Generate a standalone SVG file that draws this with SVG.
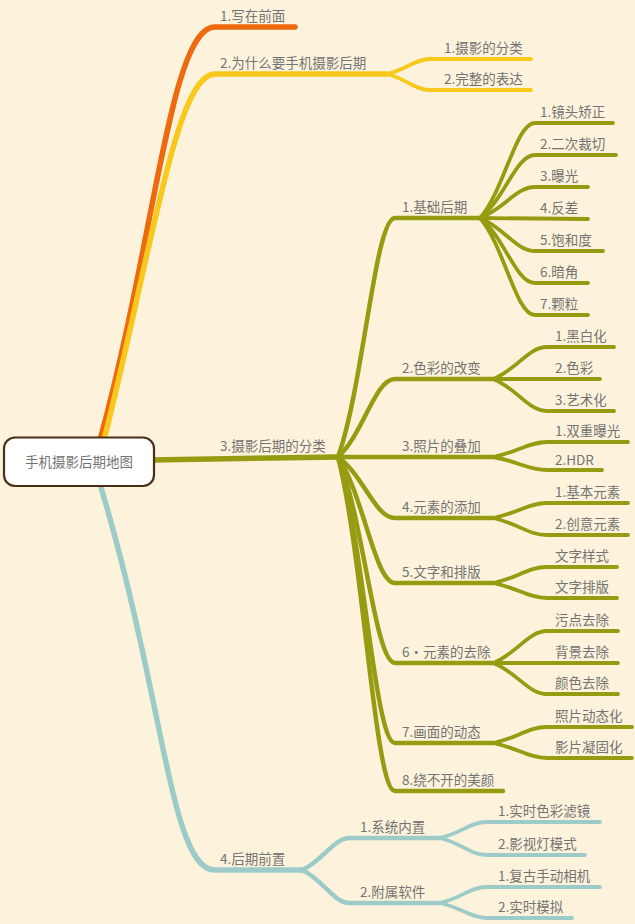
<svg xmlns="http://www.w3.org/2000/svg" width="635" height="924" viewBox="0 0 635 924">
<style>
  text { font-family: "Noto Sans CJK SC", "Noto Sans", sans-serif; font-size: 13.5px; fill: #737373; }
  .c { fill: none; stroke-linecap: round; stroke-linejoin: round; }
  .o { stroke: #ee6a0e; }
  .y { stroke: #f8c81c; }
  .g { stroke: #959c12; }
  .t { stroke: #9dcbca; }
  .w1 { stroke-width: 5.5; }
  .w2 { stroke-width: 4.5; }
  .w3 { stroke-width: 3.8; }
  .root { fill: #ffffff; stroke: #4b2e18; stroke-width: 2.2; }
</style>
<rect x="0" y="0" width="635" height="924" fill="#fdf3dc"/>
<g id="connectors">
  <path class="c o w1" d="M100,440 C155,240 170,27 215,27 L295,27"/>
  <path class="c y w1" d="M104,440 C152,250 176,74 215,74 L387,74"/>
  <path class="c g w1" d="M150,460 L338,457"/>
  <path class="c t w1" d="M100,484 C165,700 170,870 215,870 L302,870"/>
  <path class="c y w3" d="M387,74 C406.4,69.5 415,59 430,59 L531,59"/>
  <path class="c y w3" d="M387,74 C406.4,78.8 415,90 430,90 L531,90"/>
  <path class="c g w2" d="M338,457 C363.6,385.3 375,218 395,218 L480,218"/>
  <path class="c g w2" d="M338,457 C363.6,433.6 375,379 395,379 L493,379"/>
  <path class="c g w2" d="M338,457 L493,457"/>
  <path class="c g w2" d="M338,457 C363.6,475.3 375,518 395,518 L493,518"/>
  <path class="c g w2" d="M338,457 C363.6,494.8 375,583 395,583 L493,583"/>
  <path class="c g w2" d="M338,457 C363.6,518.8 375,663 395,663 L493,663"/>
  <path class="c g w2" d="M338,457 C363.6,542.8 375,743 395,743 L493,743"/>
  <path class="c g w2" d="M338,457 C363.6,557.2 375,791 395,791 L503,791"/>
  <path class="c g w3" d="M480,218 C504.75,189.5 515.75,123 535,123 L613,123"/>
  <path class="c g w3" d="M480,218 C504.75,199.1 515.75,155 535,155 L616,155"/>
  <path class="c g w3" d="M480,218 C504.75,208.7 515.75,187 535,187 L588,187"/>
  <path class="c g w3" d="M480,218 L588,219"/>
  <path class="c g w3" d="M480,218 C504.75,227.9 515.75,251 535,251 L603,251"/>
  <path class="c g w3" d="M480,218 C504.75,237.5 515.75,283 535,283 L588,283"/>
  <path class="c g w3" d="M480,218 C504.75,247.1 515.75,315 535,315 L588,315"/>
  <path class="c g w3" d="M493,379 C517.3,369.4 528.1,347 547,347 L614,347"/>
  <path class="c g w3" d="M493,379 L600,379"/>
  <path class="c g w3" d="M493,379 C517.3,388.6 528.1,411 547,411 L614,411"/>
  <path class="c g w3" d="M493,457 C517.3,452.5 528.1,442 547,442 L628,442"/>
  <path class="c g w3" d="M493,457 C517.3,460.9 528.1,470 547,470 L602,470"/>
  <path class="c g w3" d="M493,518 C517.3,513.5 528.1,503 547,503 L628,503"/>
  <path class="c g w3" d="M493,518 C517.3,523.1 528.1,535 547,535 L628,535"/>
  <path class="c g w3" d="M493,583 C517.3,578.2 528.1,567 547,567 L617,567"/>
  <path class="c g w3" d="M493,583 C517.3,587.5 528.1,598 547,598 L617,598"/>
  <path class="c g w3" d="M493,663 C517.3,653.4 528.1,631 547,631 L618,631"/>
  <path class="c g w3" d="M493,663 L618,663"/>
  <path class="c g w3" d="M493,663 C517.3,672.3 528.1,694 547,694 L618,694"/>
  <path class="c g w3" d="M493,743 C517.3,738.2 528.1,727 547,727 L632,727"/>
  <path class="c g w3" d="M493,743 C517.3,747.5 528.1,758 547,758 L632,758"/>
  <path class="c t w2" d="M302,870 C323.6,860.4 333.2,838 350,838 L440,838"/>
  <path class="c t w2" d="M302,870 C323.6,879.9 333.2,903 350,903 L440,903"/>
  <path class="c t w3" d="M440,838 C461.2,833.2 470.6,822 487,822 L600,822"/>
  <path class="c t w3" d="M440,838 C461.2,843.1 470.6,855 487,855 L585,855"/>
  <path class="c t w3" d="M440,903 C461.2,898.2 470.6,887 487,887 L600,887"/>
  <path class="c t w3" d="M440,903 C461.2,907.5 470.6,918 487,918 L572,918"/>
</g>
<g id="root">
  <rect class="root" x="4" y="437.5" width="150" height="48.5" rx="11"/>
  <text x="79" y="467" text-anchor="middle">手机摄影后期地图</text>
</g>
<g id="n1"><text x="220" y="21">1.写在前面</text></g>
<g id="n2"><text x="220" y="68">2.为什么要手机摄影后期</text></g>
<g id="n2-1"><text x="444" y="53">1.摄影的分类</text></g>
<g id="n2-2"><text x="444" y="84">2.完整的表达</text></g>
<g id="n3"><text x="220" y="451">3.摄影后期的分类</text></g>
<g id="n3-1"><text x="402" y="212">1.基础后期</text></g>
<g id="n3-1-1"><text x="540" y="117">1.镜头矫正</text></g>
<g id="n3-1-2"><text x="540" y="149">2.二次裁切</text></g>
<g id="n3-1-3"><text x="540" y="181">3.曝光</text></g>
<g id="n3-1-4"><text x="540" y="213">4.反差</text></g>
<g id="n3-1-5"><text x="540" y="245">5.饱和度</text></g>
<g id="n3-1-6"><text x="540" y="277">6.暗角</text></g>
<g id="n3-1-7"><text x="540" y="309">7.颗粒</text></g>
<g id="n3-2"><text x="402" y="373">2.色彩的改变</text></g>
<g id="n3-2-1"><text x="555" y="341">1.黑白化</text></g>
<g id="n3-2-2"><text x="555" y="373">2.色彩</text></g>
<g id="n3-2-3"><text x="555" y="405">3.艺术化</text></g>
<g id="n3-3"><text x="402" y="451">3.照片的叠加</text></g>
<g id="n3-3-1"><text x="555" y="436">1.双重曝光</text></g>
<g id="n3-3-2"><text x="555" y="465">2.HDR</text></g>
<g id="n3-4"><text x="402" y="512">4.元素的添加</text></g>
<g id="n3-4-1"><text x="555" y="497">1.基本元素</text></g>
<g id="n3-4-2"><text x="555" y="529">2.创意元素</text></g>
<g id="n3-5"><text x="402" y="577">5.文字和排版</text></g>
<g id="n3-5-1"><text x="555" y="561">文字样式</text></g>
<g id="n3-5-2"><text x="555" y="592">文字排版</text></g>
<g id="n3-6"><text x="402" y="657">6·元素的去除</text></g>
<g id="n3-6-1"><text x="555" y="625">污点去除</text></g>
<g id="n3-6-2"><text x="555" y="657">背景去除</text></g>
<g id="n3-6-3"><text x="555" y="688">颜色去除</text></g>
<g id="n3-7"><text x="402" y="737">7.画面的动态</text></g>
<g id="n3-7-1"><text x="555" y="721">照片动态化</text></g>
<g id="n3-7-2"><text x="555" y="752">影片凝固化</text></g>
<g id="n3-8"><text x="402" y="785">8.绕不开的美颜</text></g>
<g id="n4"><text x="220" y="864">4.后期前置</text></g>
<g id="n4-1"><text x="360" y="832">1.系统内置</text></g>
<g id="n4-1-1"><text x="498" y="816">1.实时色彩滤镜</text></g>
<g id="n4-1-2"><text x="498" y="849">2.影视灯模式</text></g>
<g id="n4-2"><text x="360" y="897">2.附属软件</text></g>
<g id="n4-2-1"><text x="498" y="881">1.复古手动相机</text></g>
<g id="n4-2-2"><text x="498" y="912">2.实时模拟</text></g>
</svg>
